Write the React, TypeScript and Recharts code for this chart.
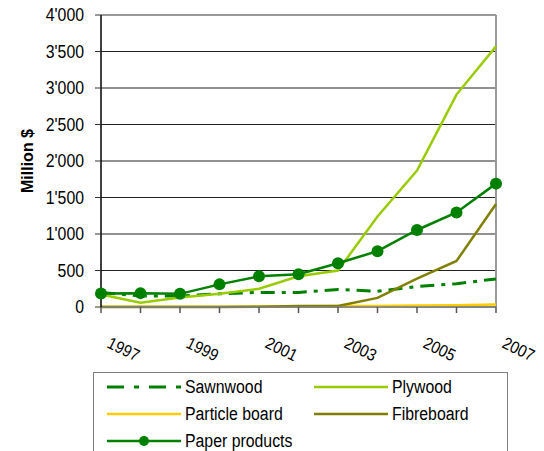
import React from 'react';
import { LineChart, Line, XAxis, YAxis, CartesianGrid, ReferenceLine } from 'recharts';

const years = ['1997', '1998', '1999', '2000', '2001', '2002', '2003', '2004', '2005', '2006', '2007'];
const sawnwood = [200, 150, 150, 180, 200, 200, 240, 215, 280, 320, 385];
const plywood = [170, 60, 130, 180, 250, 420, 500, 1240, 1870, 2910, 3570];
const particleBoard = [5, 5, 5, 5, 8, 10, 12, 15, 20, 25, 35];
const fibreboard = [0, 0, 0, 0, 5, 15, 15, 125, 390, 630, 1410];
const paperProducts = [185, 190, 180, 310, 420, 450, 600, 765, 1055, 1295, 1690];
const yTicks = [0, 500, 1000, 1500, 2000, 2500, 3000, 3500, 4000];

const series = [
  { key: 'sawnwood', name: 'Sawnwood', values: sawnwood, color: '#008000', dash: '14 7 4 7', width: 3, dot: false },
  { key: 'plywood', name: 'Plywood', values: plywood, color: '#99CC00', dash: undefined, width: 2.5, dot: false },
  { key: 'particle', name: 'Particle board', values: particleBoard, color: '#FFCC00', dash: undefined, width: 2.5, dot: false },
  { key: 'fibre', name: 'Fibreboard', values: fibreboard, color: '#808000', dash: undefined, width: 2.5, dot: false },
  { key: 'paper', name: 'Paper products', values: paperProducts, color: '#008000', dash: undefined, width: 2.5, dot: true },
];

const data = years.map((y, i) => {
  const row: Record<string, any> = { year: y };
  series.forEach((s) => { row[s.key] = s.values[i]; });
  return row;
});

const FONT = '"Liberation Sans", Arial, sans-serif';

const fmt = (v: number) => {
  if (v >= 1000) {
    const th = Math.floor(v / 1000);
    const rest = String(v % 1000).padStart(3, '0');
    return `${th}'${rest}`;
  }
  return String(v);
};

const XTick = (props: any) => {
  const { x, y, payload } = props;
  const yr = Number(payload.value);
  if (yr % 2 === 0) return null;
  const tx = x + 5;
  const ty = y + 32;
  return (
    <g transform={`translate(${tx}, ${ty}) rotate(26) scale(0.88, 1)`}>
      <text x={0} y={0} textAnchor="start" fontFamily={FONT} fontSize={17} fill="#000">{payload.value}</text>
    </g>
  );
};

const YTick = (props: any) => {
  const { x, y, payload } = props;
  return (
    <g transform={`translate(${x}, ${y}) scale(0.88, 1)`}>
      <text x={0} y={0} dy="0.36em" textAnchor="end" fontFamily={FONT} fontSize={18} fill="#000">{fmt(payload.value)}</text>
    </g>
  );
};

const YLabel = (props: any) => {
  const vb = props.viewBox || {};
  const cx = 27;
  const cy = (vb.y ?? 15) + (vb.height ?? 292) / 2;
  return (
    <text x={cx} y={cy} transform={`rotate(-90, ${cx}, ${cy})`} textAnchor="middle" dominantBaseline="central"
      fontFamily={FONT} fontSize={16} fontWeight="bold" fill="#000">Million $</text>
  );
};

const LegendLine = ({ s }: { s: any }) => (
  <svg width={74} height={12} style={{ display: 'block' }}>
    <line x1={0} y1={6} x2={74} y2={6} stroke={s.color} strokeWidth={s.width} strokeDasharray={s.dash ? '17 10 5 10' : undefined} />
    {s.dot ? <circle cx={37} cy={6} r={5} fill={s.color} /> : null}
  </svg>
);

export default function App() {
  const rows = [[series[0], series[1]], [series[2], series[3]], [series[4]]];
  return (
    <div style={{ position: 'absolute', left: 0, top: 0, width: 544, height: 451, background: '#fff', overflow: 'hidden' }}>
      <LineChart width={544} height={451} data={data} margin={{ top: 15, right: 48, left: 10, bottom: 84 }}>
        <CartesianGrid horizontal vertical={false} stroke="#222" strokeWidth={1} />
        <XAxis dataKey="year" interval={0} tick={<XTick />} tickSize={6} height={60}
          axisLine={{ stroke: '#808080', strokeWidth: 1.5 }} tickLine={{ stroke: '#555', strokeWidth: 1.5 }} padding={{ left: 0, right: 0 }} />
        <YAxis domain={[0, 4000]} ticks={yTicks} width={91} tickSize={6} tickMargin={11}
          axisLine={{ stroke: '#000', strokeWidth: 1.5 }} tickLine={{ stroke: '#333', strokeWidth: 1 }}
          tick={<YTick />} label={<YLabel />} />
        <ReferenceLine y={4000} stroke="#999" strokeWidth={2} />
        <ReferenceLine x="2007" stroke="#999" strokeWidth={2} />
        {series.map((s) => (
          <Line key={s.key} type="linear" dataKey={s.key} name={s.name} stroke={s.color} strokeWidth={s.width}
            strokeDasharray={s.dash} isAnimationActive={false}
            dot={s.dot ? { r: 6, fill: s.color, stroke: 'none' } : false} activeDot={false} />
        ))}
      </LineChart>
      <div style={{ position: 'absolute', left: 93, top: 372, width: 415, height: 100, border: '1px solid #808080', boxSizing: 'border-box', fontFamily: FONT, fontSize: 18, color: '#000' }}>
        {rows.map((r, ri) => (
          <div key={ri} style={{ position: 'absolute', top: 4 + ri * 27, left: 0, width: '100%', height: 20 }}>
            {r.map((s, ci) => (
              <div key={s.key} style={{ position: 'absolute', left: ci === 0 ? 13 : 220, top: 0, display: 'flex', alignItems: 'center', height: 20 }}>
                <LegendLine s={s} />
                <span style={{ marginLeft: 4, whiteSpace: 'nowrap', display: 'inline-block', transform: 'scaleX(0.88)', transformOrigin: 'left center' }}>{s.name}</span>
              </div>
            ))}
          </div>
        ))}
      </div>
    </div>
  );
}
